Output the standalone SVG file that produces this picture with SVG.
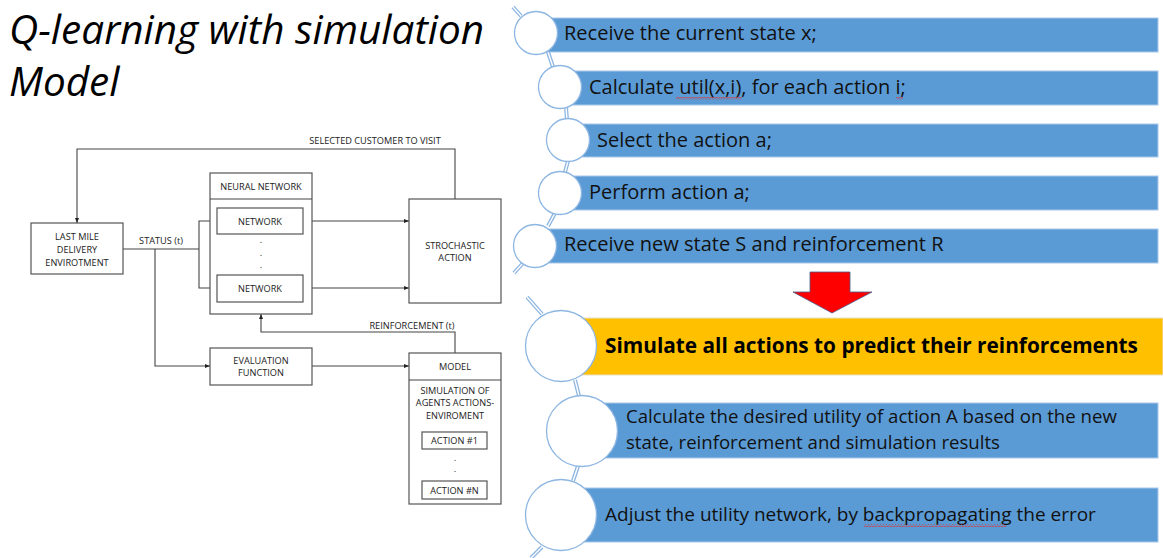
<svg xmlns="http://www.w3.org/2000/svg" width="1163" height="558" viewBox="0 0 1163 558">
<defs>
<marker id="ah" viewBox="0 0 10 10" refX="10" refY="5" markerWidth="5" markerHeight="5" orient="auto" markerUnits="userSpaceOnUse">
<path d="M0,1 L10,5 L0,9 z" fill="#222"/>
</marker>
<pattern id="wave" x="0" y="0" width="3" height="3" patternUnits="userSpaceOnUse">
<path d="M0,0.5 L1.5,2.5 L3,0.5" fill="none" stroke="#E03030" stroke-width="0.8"/>
</pattern>
<style>
.bx{fill:#fff;stroke:#555;stroke-width:1.2}
.ln{fill:none;stroke:#444;stroke-width:1.1}
.sm{font-family:"Open Sans","Liberation Sans",sans-serif;font-size:9.2px;fill:#222;text-anchor:middle}
.bar{fill:#5B9BD5;stroke:#A9C8EA;stroke-width:1}
.org{fill:#FFC000;stroke:#E8E0C8;stroke-width:1}
.cir{fill:#fff;stroke:#8DB6E2;stroke-width:1.3}
.cn1{stroke:#8DB6E2;stroke-width:4;fill:none}
.cn2{stroke:#fff;stroke-width:1.4;fill:none}
.bt{font-family:"Open Sans","Liberation Sans",sans-serif;font-size:20px;fill:#111}
.bt2{font-family:"Open Sans","Liberation Sans",sans-serif;font-size:19px;fill:#111}
.bt3{font-family:"Open Sans","Liberation Sans",sans-serif;font-size:18.6px;fill:#111}
</style>
</defs>
<rect width="1163" height="558" fill="#fff"/>

<g id="title" font-family="'Open Sans','Liberation Sans',sans-serif" font-style="italic" font-size="40.5px" fill="#000">
<text x="9" y="44">Q-learning with simulation</text>
<text x="9" y="96">Model</text>
</g>

<g id="connectors">
<polyline class="ln" points="455,199 455,149 77,149 77,223" marker-end="url(#ah)"/>
<line class="ln" x1="123" y1="249" x2="199" y2="249"/>
<polyline class="ln" points="199,249 199,221 217,221" marker-end="url(#ah)"/>
<polyline class="ln" points="199,249 199,288 217,288" marker-end="url(#ah)"/>
<polyline class="ln" points="155,249 155,366 210,366" marker-end="url(#ah)"/>
<line class="ln" x1="303" y1="221" x2="409" y2="221" marker-end="url(#ah)"/>
<line class="ln" x1="303" y1="288" x2="409" y2="288" marker-end="url(#ah)"/>
<line class="ln" x1="312" y1="366" x2="409" y2="366" marker-end="url(#ah)"/>
<polyline class="ln" points="455,353 455,332 261,332 261,314" marker-end="url(#ah)"/>
<text class="sm" x="375" y="143.5">SELECTED CUSTOMER TO VISIT</text>
<text class="sm" x="161" y="244">STATUS (t)</text>
<text class="sm" x="412" y="329">REINFORCEMENT (t)</text>
</g>

<g id="last-mile">
<rect class="bx" x="31" y="223" width="92" height="51"/>
<text class="sm" x="77" y="240">LAST MILE</text>
<text class="sm" x="77" y="253">DELIVERY</text>
<text class="sm" x="77" y="266">ENVIROTMENT</text>
</g>

<g id="neural-network">
<rect class="bx" x="210" y="173" width="102" height="141"/>
<line class="ln" x1="210" y1="199" x2="312" y2="199"/>
<text class="sm" x="261" y="190">NEURAL NETWORK</text>
<rect class="bx" x="217" y="208" width="86" height="26"/>
<text class="sm" x="260" y="224.5">NETWORK</text>
<text class="sm" x="261" y="243">.</text>
<text class="sm" x="261" y="256">.</text>
<text class="sm" x="261" y="268">.</text>
<rect class="bx" x="217" y="275" width="86" height="27"/>
<text class="sm" x="260" y="291.5">NETWORK</text>
</g>

<g id="stochastic-action">
<rect class="bx" x="409" y="199" width="92" height="104"/>
<text class="sm" x="455" y="249">STROCHASTIC</text>
<text class="sm" x="455" y="261">ACTION</text>
</g>

<g id="evaluation">
<rect class="bx" x="210" y="348" width="102" height="37"/>
<text class="sm" x="261" y="364">EVALUATION</text>
<text class="sm" x="261" y="376">FUNCTION</text>
</g>

<g id="model">
<rect class="bx" x="409" y="353" width="92" height="151"/>
<line class="ln" x1="409" y1="380" x2="501" y2="380"/>
<text class="sm" x="455" y="370">MODEL</text>
<text class="sm" x="455" y="394">SIMULATION OF</text>
<text class="sm" x="455" y="406">AGENTS ACTIONS-</text>
<text class="sm" x="455" y="419">ENVIROMENT</text>
<rect class="bx" x="422" y="432" width="65" height="17"/>
<text class="sm" x="454.5" y="443.5">ACTION #1</text>
<text class="sm" x="455" y="461">.</text>
<text class="sm" x="455" y="472">.</text>
<rect class="bx" x="422" y="481" width="65" height="18"/>
<text class="sm" x="454.5" y="493.5">ACTION #N</text>
</g>

<g id="step-links">
<path class="cn1" d="M513,7 L521,16 M548,52 L553,67 M566,107 L567,120 M568,161 L565,172 M555,213 L548,226 M524,262 L514,273 M527,297 L542,314 M575,380 L579,396 M578,466 L573,481 M542,547 L531,558"/>
<path class="cn2" d="M513,7 L521,16 M548,52 L553,67 M566,107 L567,120 M568,161 L565,172 M555,213 L548,226 M524,262 L514,273 M527,297 L542,314 M575,380 L579,396 M578,466 L573,481 M542,547 L531,558"/>
</g>

<g id="step1">
<rect class="bar" x="536" y="18" width="622" height="34"/>
<circle class="cir" cx="536" cy="33" r="21.5"/>
<text class="bt" x="564" y="40">Receive the current state x;</text>
</g>
<g id="step2">
<rect class="bar" x="560" y="71" width="598" height="34"/>
<circle class="cir" cx="560" cy="87" r="21.5"/>
<text class="bt" x="589" y="94">Calculate util(x,i), for each action i;</text>
<rect x="676" y="97" width="66" height="3" fill="url(#wave)"/>
<rect x="896" y="97" width="7" height="3" fill="url(#wave)"/>
</g>
<g id="step3">
<rect class="bar" x="568" y="124" width="590" height="33"/>
<circle class="cir" cx="568" cy="140" r="21.5"/>
<text class="bt" x="597" y="147">Select the action a;</text>
</g>
<g id="step4">
<rect class="bar" x="560" y="176" width="598" height="34"/>
<circle class="cir" cx="560" cy="193" r="21.5"/>
<text class="bt" x="589" y="199">Perform action a;</text>
</g>
<g id="step5">
<rect class="bar" x="535" y="229" width="623" height="34"/>
<circle class="cir" cx="535" cy="246" r="21.5"/>
<text class="bt" x="564" y="251">Receive new state S and reinforcement R</text>
</g>

<g id="down-arrow">
<polygon points="810,272 850,272 850,292 872,292 832,313 793,292 810,292" fill="#FF0000" stroke="#4A5C8A" stroke-width="0.8"/>
</g>

<g id="step6">
<rect class="org" x="561" y="318" width="602" height="57"/>
<circle class="cir" cx="561" cy="346" r="35.5"/>
<text x="605" y="353" font-family="'Open Sans','Liberation Sans',sans-serif" font-weight="bold" font-size="20.8px" fill="#000">Simulate all actions to predict their reinforcements</text>
</g>
<g id="step7">
<rect class="bar" x="582" y="403" width="576" height="55"/>
<circle class="cir" cx="582" cy="431" r="35.5"/>
<text class="bt3" x="626" y="423">Calculate the desired utility of action A based on the new</text>
<text class="bt3" x="626" y="448.5">state, reinforcement and simulation results</text>
</g>
<g id="step8">
<rect class="bar" x="561" y="488" width="597" height="54"/>
<circle class="cir" cx="561" cy="515" r="35.5"/>
<text class="bt2" x="605" y="521">Adjust the utility network, by backpropagating the error</text>
<rect x="864" y="524" width="142" height="3" fill="url(#wave)"/>
</g>
</svg>
